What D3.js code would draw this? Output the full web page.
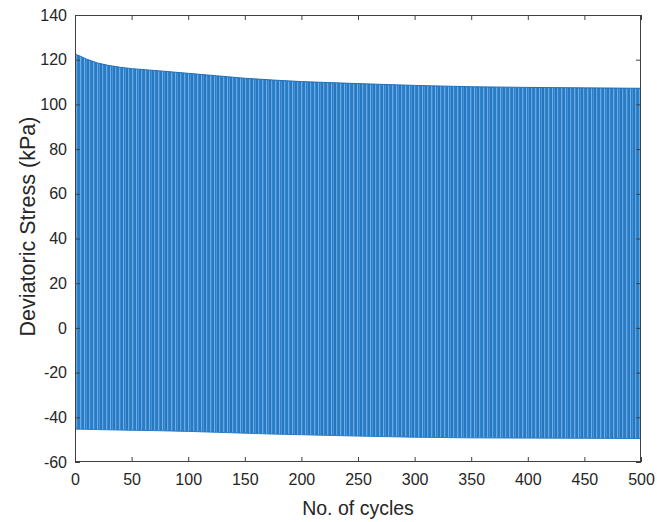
<!DOCTYPE html>
<html>
<head>
<meta charset="utf-8">
<script src="https://cdn.jsdelivr.net/npm/d3@7"></script>
<style>
  body { margin: 0; background: #fff; }
  text { font-family: "Liberation Sans", Arial, Helvetica, sans-serif; fill: #262626; }
</style>
</head>
<body>
<svg id="vis"></svg>
<script>
// envelope of the cyclic record
const cycles = [0, 5, 10, 20, 30, 40, 50, 75, 100, 125, 150, 175, 200, 250, 300, 350, 400, 450, 500]
const peakStress = [122.5, 121.5, 120.3, 118.5, 117.4, 116.6, 116.0, 115.0, 113.9, 112.8, 111.7, 110.9, 110.2, 109.3, 108.5, 107.9, 107.6, 107.4, 107.2]
const troughStress = [-45.3, -45.3, -45.4, -45.5, -45.6, -45.7, -45.8, -46.0, -46.3, -46.7, -47.1, -47.5, -47.8, -48.4, -48.9, -49.2, -49.3, -49.4, -49.5]

const xTicks = [0, 50, 100, 150, 200, 250, 300, 350, 400, 450, 500]
const yTicks = [-60, -40, -20, 0, 20, 40, 60, 80, 100, 120, 140]

const W = 657, H = 522
const margin = {top: 15, right: 16, bottom: 60, left: 75}

const svg = d3.select("#vis").attr("width", W).attr("height", H)

const x = d3.scaleLinear().domain([0, 500]).range([margin.left, W - margin.right])
const y = d3.scaleLinear().domain([-60, 140]).range([H - margin.bottom, margin.top])

const rows = cycles.map((c, i) => ({cycle: c, peak: peakStress[i], trough: troughStress[i]}))

// striped fill to mimic the dense up/down strokes
const defs = svg.append("defs")
const pat = defs.append("pattern")
  .attr("id", "stripes")
  .attr("patternUnits", "userSpaceOnUse")
  .attr("width", 13).attr("height", 10)
const stripes = [
  [0, 2, "#2a7cc5"], [2, 1, "#66abe6"], [3, 1, "#4089d0"], [4, 2, "#2878c2"],
  [6, 1, "#6db0ea"], [7, 1, "#2d7ec6"], [8, 1, "#4a93d8"], [9, 2, "#2676c0"],
  [11, 1, "#62a8e4"], [12, 1, "#3383ca"]
]
pat.selectAll("rect").data(stripes).join("rect")
  .attr("x", d => d[0]).attr("y", 0)
  .attr("width", d => d[1]).attr("height", 10)
  .attr("fill", d => d[2])

const area = d3.area()
  .x(d => x(d.cycle))
  .y0(d => y(d.trough))
  .y1(d => y(d.peak))

svg.append("path")
  .datum(rows)
  .attr("fill", "url(#stripes)")
  .attr("d", area)

svg.append("path")
  .datum(rows)
  .attr("fill", "none")
  .attr("stroke", "#1f6fb8")
  .attr("stroke-width", 1)
  .attr("d", d3.line().x(d => x(d.cycle)).y(d => y(d.peak)))

svg.append("path")
  .datum(rows)
  .attr("fill", "none")
  .attr("stroke", "#2a7cc5")
  .attr("stroke-width", 1)
  .attr("d", d3.line().x(d => x(d.cycle)).y(d => y(d.trough)))

// axes, matlab style: inward ticks on all four sides
const axisColor = "#404040"
function styleAxis(g) {
  g.select(".domain").remove()
  g.selectAll(".tick line").attr("stroke", axisColor)
  g.selectAll(".tick text").style("font-size", "16px").attr("fill", "#303030")
}
const plain = d => String(d)  // hyphen minus like the original

svg.append("g")
  .attr("transform", `translate(0,${H - margin.bottom})`)
  .call(d3.axisBottom(x).tickValues(xTicks).tickFormat(plain).tickSizeInner(-5).tickSizeOuter(0).tickPadding(12))
  .call(styleAxis)

svg.append("g")
  .attr("transform", `translate(0,${margin.top})`)
  .call(d3.axisTop(x).tickValues(xTicks).tickSizeInner(-5).tickSizeOuter(0).tickFormat(""))
  .call(styleAxis)

svg.append("g")
  .attr("transform", `translate(${margin.left},0)`)
  .call(d3.axisLeft(y).tickValues(yTicks).tickFormat(plain).tickSizeInner(-5).tickSizeOuter(0).tickPadding(8))
  .call(styleAxis)

svg.append("g")
  .attr("transform", `translate(${W - margin.right},0)`)
  .call(d3.axisRight(y).tickValues(yTicks).tickSizeInner(-5).tickSizeOuter(0).tickFormat(""))
  .call(styleAxis)

svg.append("rect")
  .attr("x", margin.left + 0.5).attr("y", margin.top + 0.5)
  .attr("width", W - margin.left - margin.right - 1)
  .attr("height", H - margin.top - margin.bottom - 1)
  .attr("fill", "none")
  .attr("stroke", axisColor)

// axis labels
svg.append("text")
  .attr("x", (margin.left + W - margin.right) / 2)
  .attr("y", 515)
  .attr("text-anchor", "middle")
  .style("font-size", "19.5px")
  .text("No. of cycles")

svg.append("text")
  .attr("transform", `translate(35,${(margin.top + H - margin.bottom) / 2 - 12}) rotate(-90)`)
  .attr("text-anchor", "middle")
  .style("font-size", "21.5px")
  .text("Deviatoric Stress (kPa)")
</script>
</body>
</html>
